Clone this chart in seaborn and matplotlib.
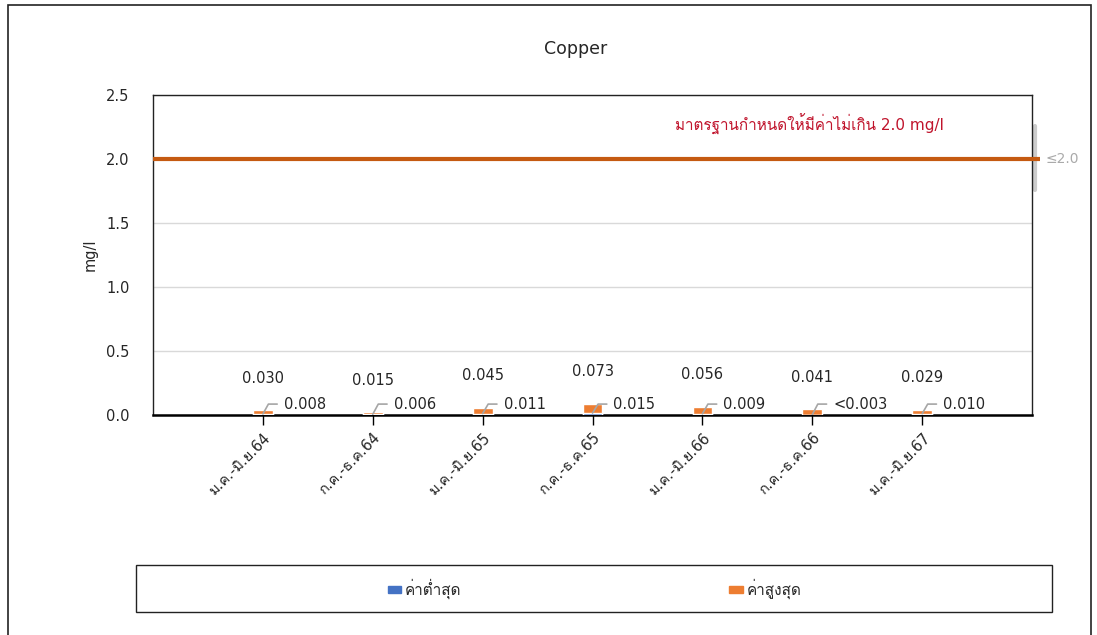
import matplotlib
matplotlib.use('Agg')
import numpy as np
import pandas as pd
import matplotlib.pyplot as plt
import seaborn as sns
from matplotlib.patches import Rectangle, Patch

# data
periods = ['ม.ค.-มิ.ย.64', 'ก.ค.-ธ.ค.64', 'ม.ค.-มิ.ย.65', 'ก.ค.-ธ.ค.65',
           'ม.ค.-มิ.ย.66', 'ก.ค.-ธ.ค.66', 'ม.ค.-มิ.ย.67']
min_vals = [0.008, 0.006, 0.011, 0.015, 0.009, 0.003, 0.010]
max_vals = [0.030, 0.015, 0.045, 0.073, 0.056, 0.041, 0.029]
min_labels = ['0.008', '0.006', '0.011', '0.015', '0.009', '<0.003', '0.010']
max_labels = ['0.030', '0.015', '0.045', '0.073', '0.056', '0.041', '0.029']
standard = 2.0
yticks = [0.0, 0.5, 1.0, 1.5, 2.0, 2.5]

BLUE = '#4472C4'
ORANGE = '#ED7D31'
LINE = '#C55A11'
RED = '#C0142C'

sns.set_theme(style='white')
plt.rcParams['font.family'] = ['DejaVu Sans', 'Loma', 'Noto Sans Thai Looped']
plt.rcParams['text.color'] = '#262626'

df = pd.DataFrame({'period': periods, 'min': min_vals, 'max': max_vals})
df['total'] = df['min'] + df['max']

fig = plt.figure(figsize=(10.97, 6.35), dpi=100)
ax = fig.add_axes([0.1395, 0.3465, 0.8013, 0.504])

# stacked columns: orange (max) sits on blue (min)
sns.barplot(data=df, x='period', y='total', color=ORANGE, width=0.18,
            saturation=1, ax=ax, zorder=3)
sns.barplot(data=df, x='period', y='min', color=BLUE, width=0.18,
            saturation=1, ax=ax, zorder=4)

ax.set_xlim(-1, 7)
ax.set_ylim(0, 2.5)
ax.set_yticks(yticks)
ax.set_yticklabels([f'{t:.1f}' for t in yticks], fontsize=10.5)
ax.yaxis.grid(True, color='#d9d9d9', lw=1)
ax.set_axisbelow(True)
ax.tick_params(axis='y', length=0, pad=17)
ax.tick_params(axis='x', length=7, width=1, color='black', direction='out',
               bottom=True, pad=4)
ax.set_xticks(range(len(periods)))
ax.set_xticklabels(periods, rotation=45, ha='right', rotation_mode='anchor',
                   fontsize=10.5)
ax.set_xlabel('')
ax.set_ylabel('mg/l', fontsize=10.5, labelpad=6)

for side in ['top', 'right', 'left']:
    ax.spines[side].set_color('#222222')
    ax.spines[side].set_linewidth(1)
ax.spines['bottom'].set_color('black')
ax.spines['bottom'].set_linewidth(1.8)

# standard line
ax.plot([-1, 7.07], [standard, standard], color=LINE, lw=3, clip_on=False,
        zorder=5, solid_capstyle='butt')
ax.text(3.75, 2.27, 'มาตรฐานกำหนดให้มีค่าไม่เกิน 2.0 mg/l', color=RED,
        fontsize=11, va='center', ha='left')
ax.text(7.12, standard, '≤2.0', color='#aaaaaa', fontsize=10, va='center',
        ha='left', clip_on=False)
ax.plot([7.03, 7.03], [1.76, 2.26], color='#cccccc', lw=3, clip_on=False, zorder=2)

# data labels
for i, row in df.iterrows():
    ax.text(i, row['total'] + 0.25, max_labels[i], ha='center', va='center',
            fontsize=10.5)
    ly = 0.085
    ax.plot([i, i + 0.05, i + 0.13], [row['min'], ly, ly], color='#a6a6a6',
            lw=1.2, zorder=6)
    ax.text(i + 0.19, ly, min_labels[i], ha='left', va='center', fontsize=10.5)

fig.text(0.525, 0.923, 'Copper', ha='center', va='center', fontsize=12.5)

# legend box
fig.patches.append(Rectangle((0.124, 0.036), 0.835, 0.074, transform=fig.transFigure,
                             fill=False, edgecolor='#222222', lw=1))
handles = [Patch(color=BLUE, label='ค่าต่ำสุด'), Patch(color=ORANGE, label='ค่าสูงสุด')]
fig.legend(handles=handles, loc='center', bbox_to_anchor=(0.542, 0.073), ncol=2,
           frameon=False, fontsize=11, handlelength=0.9, handleheight=0.35,
           handletextpad=0.25, columnspacing=17.5)

# outer frame
fig.patches.append(Rectangle((0.0073, -0.05), 0.987, 1.042, transform=fig.transFigure,
                             fill=False, edgecolor='#222222', lw=1.2))

fig.savefig('out.png', dpi=100)
